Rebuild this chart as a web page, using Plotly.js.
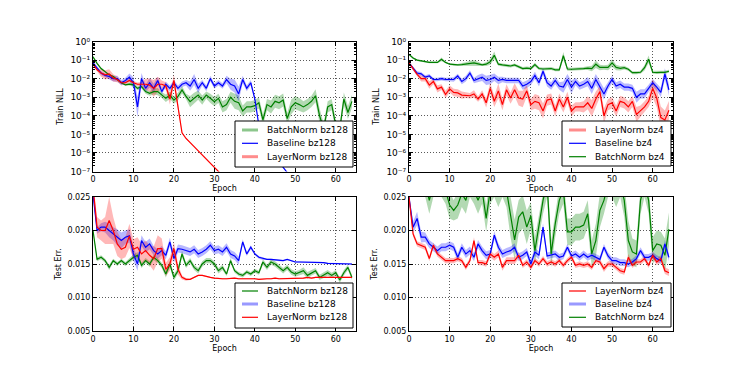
<!DOCTYPE html>
<html><head><meta charset="utf-8">
<script src="https://cdn.plot.ly/plotly-3.0.1.min.js"></script>
<style>html,body{margin:0;padding:0;background:#fff}#chart{width:748px;height:368px}</style>
</head><body><div id="chart"></div>
<script>
// ---------------- DATA ----------------
const epochs = Array.from({length:65},(_,i)=>i);

// Top-left: Train NLL, batch size 128
const nllBN128 = [0.15,0.066,0.035,0.024,0.016,0.013,0.0085,0.006,0.0046,0.0051,
 0.0046,0.003,0.0037,0.002,0.0016,0.002,0.002,0.0013,0.00087,0.0013,
 0.0007,0.0011,0.0025,0.0011,0.00058,0.00087,0.0013,0.0007,0.0013,0.00087,
 0.00058,0.00087,0.0003,0.0004,0.001,0.0006,0.0005,0.00018,0.0003,0.0003,
 0.00035,0.0005,0.00006,0.0004,0.0003,0.0006,0.0005,0.0007,0.00007,0.0003,
 0.0005,0.0004,0.0003,0.0004,0.0006,0.0012,0.0001,0.00002,0.0003,0.0004,
 0.00003,0.00002,0.0008,0.00015,0.0006];
const nllBase128 = [0.07,0.035,0.02,0.015,0.013,0.01,0.01,0.006,0.008,0.012,
 0.006,0.0003,0.01,0.003,0.006,0.003,0.008,0.002,0.005,0.003,
 0.006,0.003,0.005,0.006,0.004,0.009,0.003,0.006,0.003,0.01,
 0.004,0.006,0.004,0.009,0.005,0.004,0.0015,0.009,0.003,0.006,
 0.0008,0.00003,0.000008,0.000003,0.0000012,0.0000006,0.0000003,0.00000015,0.00000008,0.00000004,
 2e-8,1e-8,6e-9,3e-9,2e-9,1e-9,6e-10,3e-10,2e-10,1e-10,
 6e-11,3e-11,2e-11,1e-11,6e-12];
const nllLN128 = [0.06,0.03,0.02,0.016,0.018,0.011,0.009,0.006,0.006,0.008,
 0.006,0.005,0.005,0.005,0.0045,0.003,0.005,0.005,0.004,0.0008,
 0.008,0.0003,0.000012,0.000006,0.0000035,0.000002,0.0000012,0.0000007,0.0000004,0.00000025,
 0.00000015,0.00000009,0.00000005,3e-8,2e-8,1.2e-8,7e-9,4e-9,2.5e-9,1.5e-9,
 1e-9,6e-10,4e-10,2.5e-10,1.5e-10,1e-10,6e-11,4e-11,2.5e-11,1.5e-11,
 1e-11,6e-12,4e-12,2.5e-12,1.5e-12,1e-12,6e-13,4e-13,2.5e-13,1.5e-13,
 1e-13,6e-14,4e-14,2.5e-14,1.5e-14];
// band half-widths (decades)
const sNllBN128 = [0.05,0.05,0.05,0.05,0.05,0.05,0.05,0.05,0.05,0.08,
 0.1,0.1,0.1,0.12,0.12,0.15,0.2,0.15,0.2,0.2,
 0.2,0.2,0.2,0.15,0.3,0.3,0.25,0.25,0.2,0.25,
 0.25,0.25,0.3,0.3,0.3,0.4,0.4,0.3,0.3,0.3,
 0.3,0.3,0.3,0.3,0.35,0.35,0.35,0.35,0.3,0.4,
 0.35,0.35,0.3,0.3,0.3,0.35,0.4,0.3,0.3,0.3,
 0.3,0.3,0.35,0.35,0.35];
const sNllBase128 = [0.1,0.1,0.1,0.1,0.15,0.15,0.15,0.15,0.15,0.2,
 0.3,0.55,0.3,0.2,0.25,0.25,0.2,0.15,0.15,0.15,
 0.15,0.15,0.15,0.15,0.25,0.3,0.25,0.15,0.15,0.15,
 0.15,0.15,0.15,0.2,0.3,0.35,0.4,0.2,0.15,0.15,
 0.1,0,0,0,0,0,0,0,0,0,
 0,0,0,0,0,0,0,0,0,0,
 0,0,0,0,0];
const sNllLN128 = [0.1,0.1,0.2,0.25,0.25,0.2,0.15,0.1,0.1,0.1,
 0.1,0.1,0.12,0.3,0.35,0.45,0.4,0.2,0.2,0.3,
 0.3,0.2,0.05,0.05,0,0,0,0,0,0,
 0,0,0,0,0,0,0,0,0,0,
 0,0,0,0,0,0,0,0,0,0,
 0,0,0,0,0,0,0,0,0,0,
 0,0,0,0,0];

// Top-right: Train NLL, batch size 4
const nllLN4 = [0.07,0.035,0.017,0.01,0.01,0.0045,0.007,0.0028,0.0035,0.0014,
 0.0028,0.0018,0.0017,0.0013,0.0013,0.0012,0.0015,0.0008,0.0015,0.0005,
 0.003,0.0006,0.0022,0.0004,0.0025,0.0009,0.0025,0.0009,0.0008,0.0022,
 0.0004,0.0006,0.0005,0.00018,0.0007,0.0008,0.00018,0.0008,0.0003,0.001,
 0.00018,0.0003,0.0003,0.0003,0.0005,0.00025,0.0008,0.002,0.0001,0.0004,
 0.0005,0.00018,0.0006,0.0005,0.0003,0.0006,0.00012,0.00018,0.0003,0.0006,
 0.003,0.0009,0.00008,0.00006,0.0002];
const nllBase4 = [0.07,0.035,0.02,0.018,0.012,0.014,0.009,0.009,0.01,0.009,
 0.009,0.009,0.014,0.007,0.01,0.02,0.008,0.01,0.012,0.008,
 0.009,0.012,0.008,0.009,0.008,0.008,0.008,0.008,0.004,0.005,
 0.007,0.015,0.006,0.025,0.006,0.004,0.008,0.004,0.0035,0.009,
 0.0035,0.007,0.004,0.005,0.007,0.003,0.009,0.004,0.0015,0.004,
 0.009,0.004,0.005,0.0035,0.0035,0.003,0.001,0.0015,0.0015,0.003,
 0.006,0.0035,0.0018,0.018,0.0025];
const nllBN4 = [0.2,0.13,0.1,0.09,0.08,0.075,0.075,0.075,0.11,0.075,
 0.06,0.055,0.055,0.057,0.06,0.065,0.07,0.062,0.055,0.06,
 0.08,0.18,0.06,0.055,0.05,0.048,0.055,0.043,0.035,0.037,
 0.035,0.057,0.035,0.033,0.033,0.035,0.03,0.03,0.17,0.033,
 0.032,0.032,0.035,0.035,0.037,0.035,0.06,0.04,0.04,0.04,
 0.07,0.04,0.036,0.039,0.032,0.021,0.021,0.022,0.039,0.11,
 0.022,0.021,0.022,0.022,0.025];
const sNllLN4 = [0.05,0.1,0.1,0.15,0.15,0.2,0.15,0.2,0.15,0.2,
 0.2,0.2,0.2,0.2,0.15,0.15,0.2,0.15,0.2,0.25,
 0.3,0.3,0.4,0.3,0.3,0.3,0.35,0.4,0.45,0.3,
 0.3,0.4,0.4,0.4,0.3,0.3,0.3,0.3,0.3,0.3,
 0.3,0.25,0.25,0.3,0.35,0.45,0.4,0.3,0.4,0.3,
 0.3,0.3,0.3,0.3,0.3,0.3,0.4,0.3,0.3,0.3,
 0.5,0.5,0.6,0.5,0.5];
const sNllBase4 = [0.05,0.1,0.1,0.1,0.1,0.1,0.1,0.1,0.1,0.1,
 0.1,0.12,0.12,0.15,0.15,0.15,0.15,0.2,0.2,0.25,
 0.25,0.2,0.2,0.15,0.15,0.15,0.15,0.15,0.2,0.2,
 0.2,0.2,0.2,0.2,0.2,0.2,0.2,0.2,0.3,0.3,
 0.35,0.2,0.2,0.2,0.25,0.3,0.3,0.3,0.3,0.2,
 0.2,0.2,0.2,0.2,0.2,0.2,0.3,0.25,0.25,0.2,
 0.2,0.2,0.25,0.3,0.3];
const sNllBN4 = [0.05,0.05,0.05,0.05,0.05,0.05,0.05,0.05,0.1,0.05,
 0.05,0.05,0.05,0.08,0.1,0.15,0.15,0.12,0.08,0.1,
 0.15,0.2,0.08,0.08,0.08,0.08,0.08,0.08,0.08,0.08,
 0.08,0.1,0.08,0.08,0.08,0.08,0.08,0.08,0.2,0.1,
 0.08,0.08,0.08,0.08,0.1,0.15,0.2,0.15,0.12,0.15,
 0.2,0.15,0.12,0.1,0.08,0.08,0.08,0.08,0.15,0.2,
 0.08,0.08,0.08,0.08,0.08];

// Bottom-left: Test error, batch size 128
const errBN128 = [0.020,0.0157,0.016,0.0155,0.0145,0.0155,0.015,0.0155,0.015,0.0155,
 0.016,0.0163,0.0148,0.0155,0.015,0.016,0.0155,0.0148,0.0135,0.015,
 0.013,0.014,0.0165,0.0148,0.0155,0.0145,0.014,0.015,0.0155,0.0155,
 0.015,0.014,0.0145,0.0135,0.0155,0.014,0.0135,0.0133,0.0138,0.0135,
 0.014,0.0137,0.0153,0.0145,0.0153,0.015,0.0145,0.014,0.0145,0.0138,
 0.0135,0.0137,0.014,0.0133,0.0137,0.014,0.013,0.0133,0.0137,0.0133,
 0.0137,0.0126,0.0137,0.0145,0.013];
const errBase128 = [0.0255,0.0200,0.0205,0.0205,0.020,0.0195,0.019,0.0185,0.019,0.0192,
 0.0165,0.015,0.0185,0.0175,0.018,0.017,0.0165,0.017,0.0163,0.0183,
 0.0158,0.0173,0.0172,0.017,0.0168,0.0172,0.0165,0.0168,0.0172,0.0178,
 0.017,0.0172,0.0168,0.0175,0.0165,0.0162,0.0155,0.0183,0.0165,0.0175,
 0.0165,0.016,0.0158,0.0157,0.0157,0.0156,0.0155,0.0155,0.0157,0.0155,
 0.0153,0.0153,0.0153,0.0153,0.0152,0.0152,0.0152,0.0152,0.0151,0.0151,
 0.0151,0.0151,0.0151,0.015,0.015];
const errLN128 = [0.0265,0.0205,0.020,0.020,0.0215,0.020,0.018,0.0172,0.0175,0.0192,
 0.0172,0.0175,0.0165,0.017,0.0163,0.0158,0.0173,0.0173,0.0142,0.015,
 0.0173,0.0142,0.013,0.0127,0.0127,0.013,0.0133,0.0133,0.0131,0.013,
 0.0129,0.0128,0.0128,0.0128,0.0129,0.0129,0.0128,0.0128,0.0129,0.0128,
 0.0128,0.0127,0.0128,0.0128,0.0128,0.0129,0.0128,0.0128,0.0129,0.0129,
 0.0128,0.0129,0.0129,0.013,0.0129,0.013,0.013,0.0131,0.013,0.013,
 0.013,0.013,0.0131,0.013,0.013];
const sErrBN128 = [0.0003,0.0003,0.0003,0.0003,0.0004,0.0003,0.0003,0.0003,0.0003,0.0004,
 0.0004,0.0005,0.0004,0.0004,0.0004,0.0004,0.0004,0.0004,0.0005,0.0005,
 0.0005,0.0004,0.0005,0.0004,0.0004,0.0004,0.0004,0.0004,0.0004,0.0004,
 0.0004,0.0004,0.0004,0.0003,0.0004,0.0003,0.0003,0.0003,0.0003,0.0003,
 0.0003,0.0003,0.0004,0.0004,0.0004,0.0004,0.0004,0.0004,0.0004,0.0004,
 0.0004,0.0004,0.0005,0.0005,0.0004,0.0004,0.0004,0.0004,0.0004,0.0004,
 0.0004,0.0004,0.0004,0.0004,0.0004];
const sErrBase128 = [0.0006,0.0005,0.0006,0.0008,0.001,0.001,0.0012,0.0012,0.001,0.001,
 0.001,0.001,0.0008,0.0008,0.0008,0.0007,0.0007,0.0007,0.0006,0.0006,
 0.0006,0.0006,0.0006,0.0006,0.0006,0.0006,0.0006,0.0006,0.0006,0.0006,
 0.0006,0.0006,0.0006,0.0006,0.0006,0.0006,0.0006,0.0004,0.0003,0.0003,
 0.0002,0.0002,0.0002,0.0001,0.0001,0.0001,0.0001,0.0001,0.0001,0.0001,
 0.0001,0.0001,0.0001,0.0001,0.0001,0.0001,0.0001,0.0001,0.0001,0.0001,
 0.0001,0.0001,0.0001,0.0001,0.0001];
const sErrLN128 = [0.001,0.0015,0.0015,0.002,0.0035,0.002,0.0018,0.0015,0.0015,0.0018,
 0.0015,0.0015,0.0015,0.0015,0.0015,0.0018,0.002,0.0015,0.001,0.001,
 0.001,0.0008,0.0003,0.0002,0.0001,0.0001,0.0001,0.0001,0.0001,0.0001,
 0.0001,0.0001,0.0001,0.0001,0.0001,0.0001,0.0001,0.0001,0.0001,0.0001,
 0.0001,0.0001,0.0001,0.0001,0.0001,0.0001,0.0001,0.0001,0.0001,0.0001,
 0.0001,0.0001,0.0001,0.0001,0.0001,0.0001,0.0001,0.0001,0.0001,0.0001,
 0.0001,0.0001,0.0001,0.0001,0.0001];

// Bottom-right: Test error, batch size 4
const errLN4 = [0.025,0.0195,0.018,0.0178,0.0175,0.0158,0.0178,0.0165,0.016,0.0155,
 0.0155,0.0155,0.0158,0.0155,0.0145,0.0155,0.0185,0.0152,0.0152,0.015,
 0.0165,0.016,0.0165,0.0145,0.0155,0.0155,0.0155,0.0163,0.0148,0.0153,
 0.0145,0.0155,0.015,0.0158,0.015,0.0153,0.015,0.0155,0.0148,0.0155,
 0.016,0.0148,0.015,0.0148,0.015,0.0145,0.0155,0.0153,0.0143,0.015,
 0.015,0.0145,0.014,0.0138,0.016,0.0148,0.0153,0.0153,0.0158,0.0148,
 0.0163,0.0153,0.0158,0.014,0.0137];
const errBase4 = [0.025,0.0205,0.0218,0.019,0.019,0.018,0.0175,0.017,0.0175,0.0175,
 0.0178,0.0175,0.016,0.0175,0.0165,0.017,0.016,0.018,0.017,0.0163,
 0.0165,0.0193,0.0175,0.0165,0.0168,0.017,0.0175,0.016,0.0163,0.0168,
 0.015,0.0168,0.0163,0.0205,0.0162,0.0163,0.0165,0.016,0.0162,0.0175,
 0.0162,0.0165,0.016,0.0165,0.016,0.0163,0.016,0.0157,0.0175,0.0162,
 0.0155,0.0155,0.0152,0.0152,0.015,0.0153,0.0158,0.017,0.016,0.016,
 0.0163,0.0158,0.0155,0.018,0.016];
const errBN4 = [0.03,0.028,0.027,0.028,0.027,0.0245,0.027,0.028,0.027,0.026,
 0.0238,0.023,0.0238,0.0255,0.0245,0.027,0.026,0.0245,0.026,0.0218,
 0.026,0.027,0.0255,0.027,0.026,0.022,0.0186,0.022,0.0228,0.0205,
 0.0222,0.017,0.021,0.0245,0.027,0.0165,0.021,0.0245,0.026,0.0198,
 0.0198,0.0205,0.0205,0.0208,0.0225,0.0165,0.0185,0.023,0.0245,0.027,
 0.027,0.0255,0.027,0.0245,0.0185,0.0168,0.0165,0.0245,0.027,0.0245,
 0.017,0.018,0.0178,0.0163,0.0202];
const sErrLN4 = [0.0003,0.0004,0.0004,0.0004,0.0004,0.0004,0.0004,0.0004,0.0004,0.0004,
 0.0004,0.0004,0.0004,0.0004,0.0004,0.0004,0.0005,0.0004,0.0004,0.0004,
 0.0005,0.0005,0.0005,0.0005,0.0005,0.0005,0.0005,0.0005,0.0004,0.0004,
 0.0004,0.0004,0.0004,0.0004,0.0004,0.0004,0.0004,0.0004,0.0004,0.0004,
 0.0004,0.0004,0.0004,0.0004,0.0004,0.0004,0.0004,0.0004,0.0005,0.0004,
 0.0004,0.0004,0.0004,0.0004,0.0005,0.0004,0.0004,0.0004,0.0004,0.0004,
 0.0005,0.0005,0.0005,0.0005,0.0005];
const sErrBase4 = [0.0003,0.0008,0.001,0.0008,0.0007,0.0006,0.0006,0.0006,0.0006,0.0006,
 0.0006,0.0006,0.0006,0.0006,0.0006,0.0006,0.0006,0.0006,0.0006,0.0006,
 0.0006,0.0006,0.0006,0.0006,0.0006,0.0006,0.0006,0.0006,0.0006,0.0006,
 0.0007,0.0006,0.0006,0.0006,0.0005,0.0005,0.0005,0.0005,0.0005,0.0005,
 0.0005,0.0005,0.0005,0.0005,0.0005,0.0005,0.0005,0.0005,0.0005,0.0005,
 0.0005,0.0005,0.0005,0.0005,0.0005,0.0005,0.0005,0.0005,0.0005,0.0005,
 0.0005,0.0005,0.0005,0.0006,0.0006];
const sErrBN4 = [0.002,0.002,0.002,0.002,0.002,0.002,0.002,0.002,0.002,0.002,
 0.002,0.0015,0.002,0.002,0.002,0.002,0.002,0.002,0.002,0.002,
 0.002,0.002,0.002,0.002,0.0025,0.003,0.003,0.0025,0.0025,0.0025,
 0.002,0.002,0.002,0.002,0.002,0.002,0.002,0.002,0.002,0.002,
 0.002,0.002,0.002,0.002,0.002,0.002,0.0025,0.0025,0.002,0.002,
 0.002,0.002,0.002,0.0025,0.003,0.002,0.002,0.002,0.002,0.002,
 0.002,0.002,0.002,0.0025,0.0025];

// tick labels
const xTicks = [0,10,20,30,40,50,60];
const logTickVals = [1e-7,1e-6,1e-5,1e-4,1e-3,1e-2,1e-1,1];
const logTickText = ['10⁻⁷','10⁻⁶','10⁻⁵','10⁻⁴','10⁻³','10⁻²','10⁻¹','10⁰'];
const errTickVals = [0.005,0.010,0.015,0.020,0.025];
const errTickText = ['0.005','0.010','0.015','0.020','0.025'];

// ---------------- DRAWING ----------------
const W = 748, H = 368;
const px = x => x / W, py = y => 1 - y / H;
const FONT = 'DejaVu Sans, Liberation Sans, sans-serif';
const COL = {g:'#008000', b:'#0000ff', r:'#ff0000'};
const BAND = {g:'rgba(0,128,0,0.3)', b:'rgba(0,0,255,0.28)', r:'rgba(255,0,0,0.28)'};
const LIGHT = {g:'rgba(0,128,0,0.45)', b:'rgba(0,0,255,0.4)', r:'rgba(255,0,0,0.45)'};

const traces = [];
function addSeries(vals, spread, isLog, c, xa, ya) {
  const lo = vals.map((v,i)=> isLog ? v/Math.pow(10,spread[i]) : v - spread[i]);
  const hi = vals.map((v,i)=> isLog ? v*Math.pow(10,spread[i]) : v + spread[i]);
  traces.push({x:epochs, y:lo, xaxis:xa, yaxis:ya, mode:'lines', line:{width:0, color:BAND[c]}, showlegend:false, hoverinfo:'skip'});
  traces.push({x:epochs, y:hi, xaxis:xa, yaxis:ya, mode:'lines', line:{width:0, color:BAND[c]}, fill:'tonexty', fillcolor:BAND[c], showlegend:false, hoverinfo:'skip'});
}
function addLine(vals, c, xa, ya, name) {
  traces.push({x:epochs, y:vals, xaxis:xa, yaxis:ya, mode:'lines', line:{width:1.2, color:COL[c]}, name:name, showlegend:false});
}

// bands
addSeries(nllBN128, sNllBN128, true, 'g', 'x', 'y');
addSeries(nllBase128, sNllBase128, true, 'b', 'x', 'y');
addSeries(nllLN128, sNllLN128, true, 'r', 'x', 'y');
addSeries(nllBN4, sNllBN4, true, 'g', 'x2', 'y2');
addSeries(nllBase4, sNllBase4, true, 'b', 'x2', 'y2');
addSeries(nllLN4, sNllLN4, true, 'r', 'x2', 'y2');
addSeries(errBN128, sErrBN128, false, 'g', 'x3', 'y3');
addSeries(errBase128, sErrBase128, false, 'b', 'x3', 'y3');
addSeries(errLN128, sErrLN128, false, 'r', 'x3', 'y3');
addSeries(errBN4, sErrBN4, false, 'g', 'x4', 'y4');
addSeries(errBase4, sErrBase4, false, 'b', 'x4', 'y4');
addSeries(errLN4, sErrLN4, false, 'r', 'x4', 'y4');
// lines
addLine(nllBN128, 'g', 'x', 'y', 'BatchNorm bz128');
addLine(nllBase128, 'b', 'x', 'y', 'Baseline bz128');
addLine(nllLN128, 'r', 'x', 'y', 'LayerNorm bz128');
addLine(nllBN4, 'g', 'x2', 'y2', 'BatchNorm bz4');
addLine(nllBase4, 'b', 'x2', 'y2', 'Baseline bz4');
addLine(nllLN4, 'r', 'x2', 'y2', 'LayerNorm bz4');
addLine(errBN128, 'g', 'x3', 'y3', 'BatchNorm bz128');
addLine(errBase128, 'b', 'x3', 'y3', 'Baseline bz128');
addLine(errLN128, 'r', 'x3', 'y3', 'LayerNorm bz128');
addLine(errBN4, 'g', 'x4', 'y4', 'BatchNorm bz4');
addLine(errBase4, 'b', 'x4', 'y4', 'Baseline bz4');
addLine(errLN4, 'r', 'x4', 'y4', 'LayerNorm bz4');

const minorLog = [];
for (let n = -7; n < 0; n++) for (let k = 2; k <= 9; k++) minorLog.push(k * Math.pow(10, n));

const common = {
  showline:true, linecolor:'#000', linewidth:1, mirror:'ticks',
  ticks:'inside', ticklen:4, tickwidth:1, tickcolor:'#000',
  showgrid:true, gridcolor:'rgba(0,0,0,0.65)', gridwidth:1, griddash:'1px,2px',
  zeroline:false, automargin:false,
  tickfont:{family:FONT, size:8, color:'#000'}
};
function xAx(x0, x1, anchor) {
  return Object.assign({}, common, {domain:[px(x0), px(x1)], anchor:anchor, range:[0,65],
    tickmode:'array', tickvals:xTicks,
    title:{text:'Epoch', font:{family:FONT, size:8, color:'#000'}, standoff:2}});
}
function yLog(y0, y1, anchor) {
  return Object.assign({}, common, {domain:[py(y1), py(y0)], anchor:anchor, type:'log', range:[-7,0],
    tickmode:'array', tickvals:logTickVals, ticktext:logTickText,
    tickfont:{family:FONT, size:9, color:'#000'},
    minor:{tickmode:'array', tickvals:minorLog, ticks:'inside', ticklen:2, tickcolor:'#000', showgrid:false},
    title:{text:'Train NLL', font:{family:FONT, size:8, color:'#000'}, standoff:5}});
}
function yErr(y0, y1, anchor) {
  return Object.assign({}, common, {domain:[py(y1), py(y0)], anchor:anchor, range:[0.005,0.025],
    tickmode:'array', tickvals:errTickVals, ticktext:errTickText,
    title:{text:'Test Err.', font:{family:FONT, size:8, color:'#000'}, standoff:4}});
}

const L = [93, 356], R = [409, 673], T = [41.5, 171.5], B = [197, 331];

// legends drawn as shapes + text
const shapes = [], annotations = [];
function legendBox(x0, y0, x1, y1, lx0, lx1, tx, rows) {
  shapes.push({type:'rect', xref:'paper', yref:'paper', x0:px(x0), x1:px(x1), y0:py(y1), y1:py(y0),
    line:{color:'#000', width:1}, fillcolor:'#fff', layer:'above'});
  rows.forEach(r => {
    shapes.push({type:'line', xref:'paper', yref:'paper', x0:px(lx0), x1:px(lx1), y0:py(r[0]), y1:py(r[0]),
      line:{color: r[3] ? LIGHT[r[2]] : COL[r[2]], width: r[3] ? 3 : 1.2}, layer:'above'});
    annotations.push({xref:'paper', yref:'paper', x:px(tx), y:py(r[0]), xanchor:'left', yanchor:'middle',
      text:r[1], showarrow:false, font:{family:FONT, size:9, color:'#000'}});
  });
}
legendBox(235, 121, 353, 167, 242, 258, 265, [[130,'BatchNorm bz128','g',true],[143.3,'Baseline bz128','b',false],[156.7,'LayerNorm bz128','r',true]]);
legendBox(562, 121, 671, 166, 569, 586, 593, [[130,'LayerNorm bz4','r',true],[143.3,'Baseline bz4','b',false],[156.7,'BatchNorm bz4','g',false]]);
legendBox(235, 283, 353, 328, 242, 258, 265, [[291,'BatchNorm bz128','g',false],[304,'Baseline bz128','b',true],[317.3,'LayerNorm bz128','r',false]]);
legendBox(562, 283, 671, 327, 569, 586, 593, [[291,'LayerNorm bz4','r',false],[304,'Baseline bz4','b',true],[317.3,'BatchNorm bz4','g',false]]);

const layout = {
  width:W, height:H, margin:{l:0, r:0, t:0, b:0},
  paper_bgcolor:'#fff', plot_bgcolor:'#fff', showlegend:false,
  font:{family:FONT, size:8, color:'#000'},
  xaxis: xAx(L[0], L[1], 'y'),  yaxis: yLog(T[0], T[1], 'x'),
  xaxis2: xAx(R[0], R[1], 'y2'), yaxis2: yLog(T[0], T[1], 'x2'),
  xaxis3: xAx(L[0], L[1], 'y3'), yaxis3: yErr(B[0], B[1], 'x3'),
  xaxis4: xAx(R[0], R[1], 'y4'), yaxis4: yErr(B[0], B[1], 'x4'),
  shapes: shapes, annotations: annotations
};
Plotly.newPlot('chart', traces, layout, {displayModeBar:false, staticPlot:true});
</script>
</body></html>
